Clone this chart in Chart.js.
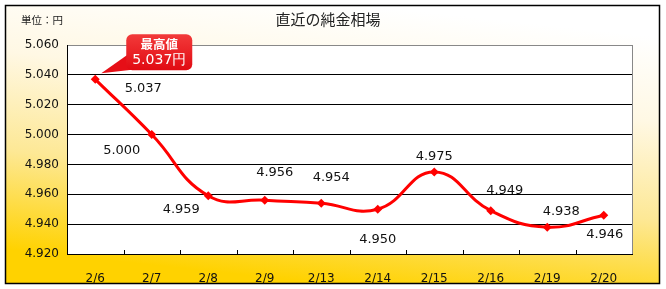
<!DOCTYPE html>
<html>
<head>
<meta charset="utf-8">
<script src="https://cdn.jsdelivr.net/npm/chart.js@4/dist/chart.umd.min.js"></script>
<style>
  html, body { margin: 0; padding: 0; background: #fff; }
  canvas { display: block; }
</style>
</head>
<body>
<canvas id="goldChart" width="666" height="289"></canvas>
<script>
const dates = ['2/6', '2/7', '2/8', '2/9', '2/13', '2/14', '2/15', '2/16', '2/19', '2/20'];
const prices = [5037, 5000, 4959, 4956, 4954, 4950, 4975, 4949, 4938, 4946];
const yTicks = [4920, 4940, 4960, 4980, 5000, 5020, 5040, 5060];
const chartTitle = '直近の純金相場';
const unitText = '単位：円';
const peakLines = ['最高値', '5.037円'];

// where each value label sits relative to its point (dx, dy)
const labelOffsets = [[48, 9], [-30, 16], [-27, 14], [10, -28], [10, -26], [0, 30], [0, -15], [14, -20], [14, -16], [1, 19]];

const fmt = (v) => (v / 1000).toFixed(3);
const numFont = '"DejaVu Sans", Verdana, sans-serif';
const jpFont = '"Noto Sans CJK JP", "Noto Sans", sans-serif';

const frame = {
  id: 'frame',
  beforeDraw(chart) {
    const { ctx, chartArea: a } = chart;
    ctx.save();
    ctx.fillStyle = '#fff';
    ctx.fillRect(0, 0, chart.width, chart.height);
    const g = ctx.createLinearGradient(360, 5, 330, 284);
    g.addColorStop(0, '#ffffff');
    g.addColorStop(0.3, '#fff8e4');
    g.addColorStop(0.65, '#fde895');
    g.addColorStop(1, '#ffd200');
    ctx.fillStyle = g;
    ctx.fillRect(5, 5, 655, 278);
    ctx.strokeStyle = '#000';
    ctx.lineWidth = 1.5;
    ctx.strokeRect(5.5, 5.5, 654, 278);
    ctx.fillStyle = '#fff';
    ctx.fillRect(a.left, a.top, a.right - a.left, a.bottom - a.top);

    ctx.fillStyle = '#222';
    ctx.textBaseline = 'middle';
    ctx.textAlign = 'center';
    ctx.font = '15px ' + jpFont;
    ctx.fillText(chartTitle, 328, 19);
    ctx.textAlign = 'left';
    ctx.font = '10.5px ' + jpFont;
    ctx.fillText(unitText, 21, 20);
    ctx.restore();
  },
  afterDatasetsDraw(chart) {
    const { ctx, chartArea: a, scales: { x } } = chart;
    ctx.save();
    // right edge of the plot
    ctx.strokeStyle = '#888';
    ctx.lineWidth = 1;
    ctx.beginPath();
    ctx.moveTo(a.right + 0.5, a.top);
    ctx.lineTo(a.right + 0.5, a.bottom);
    ctx.stroke();
    // small inner ticks between categories
    ctx.strokeStyle = '#000';
    const step = (a.right - a.left) / dates.length;
    for (let i = 1; i < dates.length; i++) {
      const px = Math.round(x.getPixelForValue(i) - step / 2) + 0.5;
      ctx.beginPath();
      ctx.moveTo(px, a.bottom);
      ctx.lineTo(px, a.bottom - 4);
      ctx.stroke();
    }
    // value labels
    const meta = chart.getDatasetMeta(0);
    ctx.fillStyle = '#111';
    ctx.font = '13px ' + numFont;
    ctx.textAlign = 'center';
    ctx.textBaseline = 'middle';
    meta.data.forEach((pt, i) => {
      const [dx, dy] = labelOffsets[i];
      ctx.fillText(fmt(prices[i]), pt.x + dx, pt.y + dy);
    });
    // peak callout
    const top = prices.indexOf(Math.max(...prices));
    const p = meta.data[top];
    const bx = p.x + 31, by = p.y - 45, bw = 66, bh = 36;
    ctx.fillStyle = '#e60f17';
    ctx.beginPath();
    ctx.moveTo(p.x + 6, p.y - 6);
    ctx.lineTo(bx + 2, by + 20);
    ctx.lineTo(bx + 10, by + bh - 1);
    ctx.closePath();
    ctx.fill();
    const bg = ctx.createLinearGradient(0, by, 0, by + bh);
    bg.addColorStop(0, '#f23a3a');
    bg.addColorStop(1, '#e10a12');
    ctx.fillStyle = bg;
    ctx.beginPath();
    ctx.roundRect(bx, by, bw, bh, 6);
    ctx.fill();
    ctx.fillStyle = '#fff';
    ctx.font = 'bold 12.5px ' + jpFont;
    ctx.fillText(peakLines[0], bx + bw / 2, by + 10);
    ctx.font = '14px ' + numFont;
    ctx.fillText(peakLines[1], bx + bw / 2, by + 26);
    ctx.restore();
  }
};

new Chart(document.getElementById('goldChart'), {
  type: 'line',
  data: {
    labels: dates,
    datasets: [{
      data: prices,
      borderColor: '#ff0000',
      backgroundColor: '#ff0000',
      borderWidth: 3,
      tension: 0.45,
      pointStyle: 'rectRot',
      pointRadius: 4.5,
      pointBorderWidth: 0,
      fill: false
    }]
  },
  options: {
    responsive: false,
    animation: false,
    layout: { padding: { left: 0, top: 45, right: 34, bottom: 0 } },
    plugins: { legend: { display: false }, tooltip: { enabled: false } },
    scales: {
      x: {
        offset: true,
        grid: { display: false },
        border: { display: true, color: '#000', width: 1 },
        ticks: { color: '#111', font: { family: numFont, size: 12 }, padding: 10, maxRotation: 0 },
        afterFit: (s) => { s.height = 35; }
      },
      y: {
        min: yTicks[0],
        max: yTicks[yTicks.length - 1],
        afterBuildTicks: (s) => { s.ticks = yTicks.map((v) => ({ value: v })); },
        grid: {
          drawTicks: false,
          color: (c) => (c.tick && c.tick.value === yTicks[yTicks.length - 1] ? '#888' : '#000'),
          lineWidth: 1
        },
        border: { display: true, color: '#000', width: 1 },
        ticks: { color: '#111', font: { family: numFont, size: 12 }, padding: 8, callback: (v) => fmt(v) },
        afterFit: (s) => { s.width = 67; }
      }
    }
  },
  plugins: [frame]
});
</script>
</body>
</html>
